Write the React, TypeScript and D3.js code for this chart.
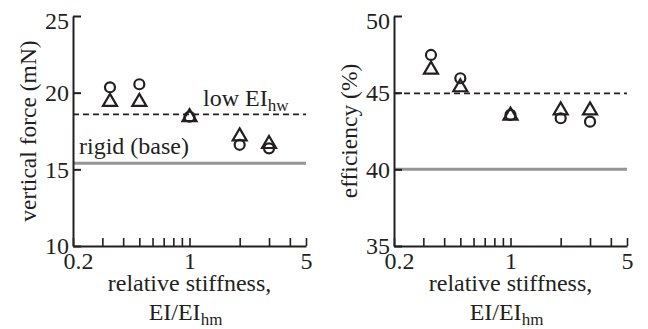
import React, { useEffect, useRef } from 'react';
import * as d3 from 'd3';

// relative stiffness EI/EI_hm of the tested wings
const stiffness = [1 / 3, 1 / 2, 1, 2, 3];

// vertical force (mN)
const forceCircle = [20.35, 20.55, 18.43, 16.6, 16.37];
const forceTriangle = [19.5, 19.5, 18.5, 17.25, 16.75];
const forceLowEI = 18.59;
const forceRigid = 15.39;

// efficiency (%)
const effCircle = [47.46, 45.94, 43.55, 43.33, 43.11];
const effTriangle = [46.6, 45.45, 43.6, 43.94, 43.94];
const effLowEI = 44.95;
const effRigid = 40.0;

const xTicks = [0.2, 0.3, 0.4, 0.5, 0.6, 0.7, 0.8, 0.9, 1, 2, 3, 4, 5];
const xTickLabels = [0.2, 1, 5];
const forceTicks = [10, 15, 20, 25];
const effTicks = [35, 40, 45, 50];

const INK = '#231f20';
const GREY = '#939598';
const FONT = '"Liberation Serif", "Times New Roman", serif';
const FS = 24;
const SUB = 17;

type Panel = {
  left: number;
  yDomain: [number, number];
  yTicks: number[];
  yLabel: string;
  yLabelX: number;
  circles: number[];
  triangles: number[];
  dashed: number;
  rigid: number;
  showText: boolean;
};

const panels: Panel[] = [
  { left: 73, yDomain: [10, 25], yTicks: forceTicks, yLabel: 'vertical force (mN)', yLabelX: 36,
    circles: forceCircle, triangles: forceTriangle, dashed: forceLowEI, rigid: forceRigid, showText: true },
  { left: 394, yDomain: [35, 50], yTicks: effTicks, yLabel: 'efficiency (%)', yLabelX: 357,
    circles: effCircle, triangles: effTriangle, dashed: effLowEI, rigid: effRigid, showText: false },
];

const App: React.FC = () => {
  const svgRef = useRef<SVGSVGElement | null>(null);

  useEffect(() => {
    const svg = d3.select(svgRef.current);
    svg.selectAll('*').remove();
    const plotW = 233;
    const top = 16;
    const bottom = 246;

    panels.forEach(p => {
      const x = d3.scaleLog().domain([0.2, 5]).range([p.left, p.left + plotW]);
      const y = d3.scaleLinear().domain(p.yDomain).range([bottom, top]);
      const g = svg.append('g');

      // reference lines
      g.append('line')
        .attr('x1', x(0.2)).attr('x2', x(5))
        .attr('y1', y(p.rigid)).attr('y2', y(p.rigid))
        .attr('stroke', GREY).attr('stroke-width', 3);
      g.append('line')
        .attr('x1', x(0.2)).attr('x2', x(5))
        .attr('y1', y(p.dashed)).attr('y2', y(p.dashed))
        .attr('stroke', INK).attr('stroke-width', 1.8)
        .attr('stroke-dasharray', '6,4');

      // X axis
      const xa = g.append('g')
        .attr('transform', `translate(0,${bottom})`)
        .call(d3.axisBottom(x).tickValues(xTicks).tickSize(-8).tickSizeOuter(0).tickPadding(6)
          .tickFormat(d => (xTickLabels.includes(+d) ? String(+d) : '')));
      // Y axis
      const ya = g.append('g')
        .attr('transform', `translate(${p.left},0)`)
        .call(d3.axisLeft(y).tickValues(p.yTicks).tickSize(-8).tickSizeOuter(0).tickPadding(4)
          .tickFormat(d => String(d)));

      [xa, ya].forEach(a => {
        a.attr('font-family', FONT).attr('font-size', FS);
        a.select('.domain').attr('stroke', INK).attr('stroke-width', 2);
        a.selectAll('.tick line').attr('stroke', INK).attr('stroke-width', 1.6);
        a.selectAll('.tick text').attr('fill', INK);
      });
      xa.selectAll('.tick text').attr('dy', '0.7em');
      xa.selectAll<SVGTextElement, number>('.tick text')
        .filter(d => d === 0.2).attr('dx', 5);
      ya.selectAll<SVGTextElement, number>('.tick text')
        .filter(d => d === p.yDomain[1]).attr('dy', '0.5em');
      ya.selectAll<SVGLineElement, number>('.tick line')
        .attr('stroke-width', 2);

      // markers
      const tri = (cx: number, cy: number) =>
        `M${cx},${cy - 6.5}L${cx + 7},${cy + 5.5}L${cx - 7},${cy + 5.5}Z`;
      g.append('g').selectAll('path')
        .data(p.triangles)
        .enter()
        .append('path')
        .attr('d', (d, i) => tri(x(stiffness[i]), y(d)))
        .attr('fill', 'none').attr('stroke', INK).attr('stroke-width', 2.2)
        .attr('stroke-linejoin', 'miter');
      g.append('g').selectAll('circle')
        .data(p.circles)
        .enter()
        .append('circle')
        .attr('cx', (d, i) => x(stiffness[i]))
        .attr('cy', d => y(d))
        .attr('r', 5)
        .attr('fill', 'none').attr('stroke', INK).attr('stroke-width', 2.2);

      // line labels
      if (p.showText) {
        const t1 = g.append('text')
          .attr('x', 203).attr('y', y(p.dashed) - 8)
          .attr('font-family', FONT).attr('font-size', FS).attr('fill', INK);
        t1.append('tspan').text('low EI');
        t1.append('tspan').attr('font-size', SUB).attr('dy', 5).text('hw');
        g.append('text')
          .attr('x', 79).attr('y', y(p.rigid) - 9)
          .attr('font-family', FONT).attr('font-size', FS).attr('fill', INK)
          .text('rigid (base)');
      }

      // X axis label
      g.append('text')
        .attr('text-anchor', 'middle')
        .attr('x', x(1)).attr('y', 291)
        .attr('font-family', FONT).attr('font-size', FS).attr('fill', INK)
        .text('relative stiffness,');
      const t2 = g.append('text')
        .attr('text-anchor', 'middle')
        .attr('x', x(1) - 4).attr('y', 320)
        .attr('font-family', FONT).attr('font-size', FS).attr('fill', INK);
      t2.append('tspan').text('EI/EI');
      t2.append('tspan').attr('font-size', SUB).attr('dy', 5).text('hm');

      // Y axis label
      g.append('text')
        .attr('text-anchor', 'middle')
        .attr('transform', `translate(${p.yLabelX},${(top + bottom) / 2}) rotate(-90)`)
        .attr('font-family', FONT).attr('font-size', 23.5).attr('fill', INK)
        .text(p.yLabel);
    });
  }, []);

  return (
    <svg ref={svgRef} width={648} height={329}
      style={{ position: 'absolute', left: 0, top: 0, background: '#fff' }}></svg>
  );
};

export default App;
